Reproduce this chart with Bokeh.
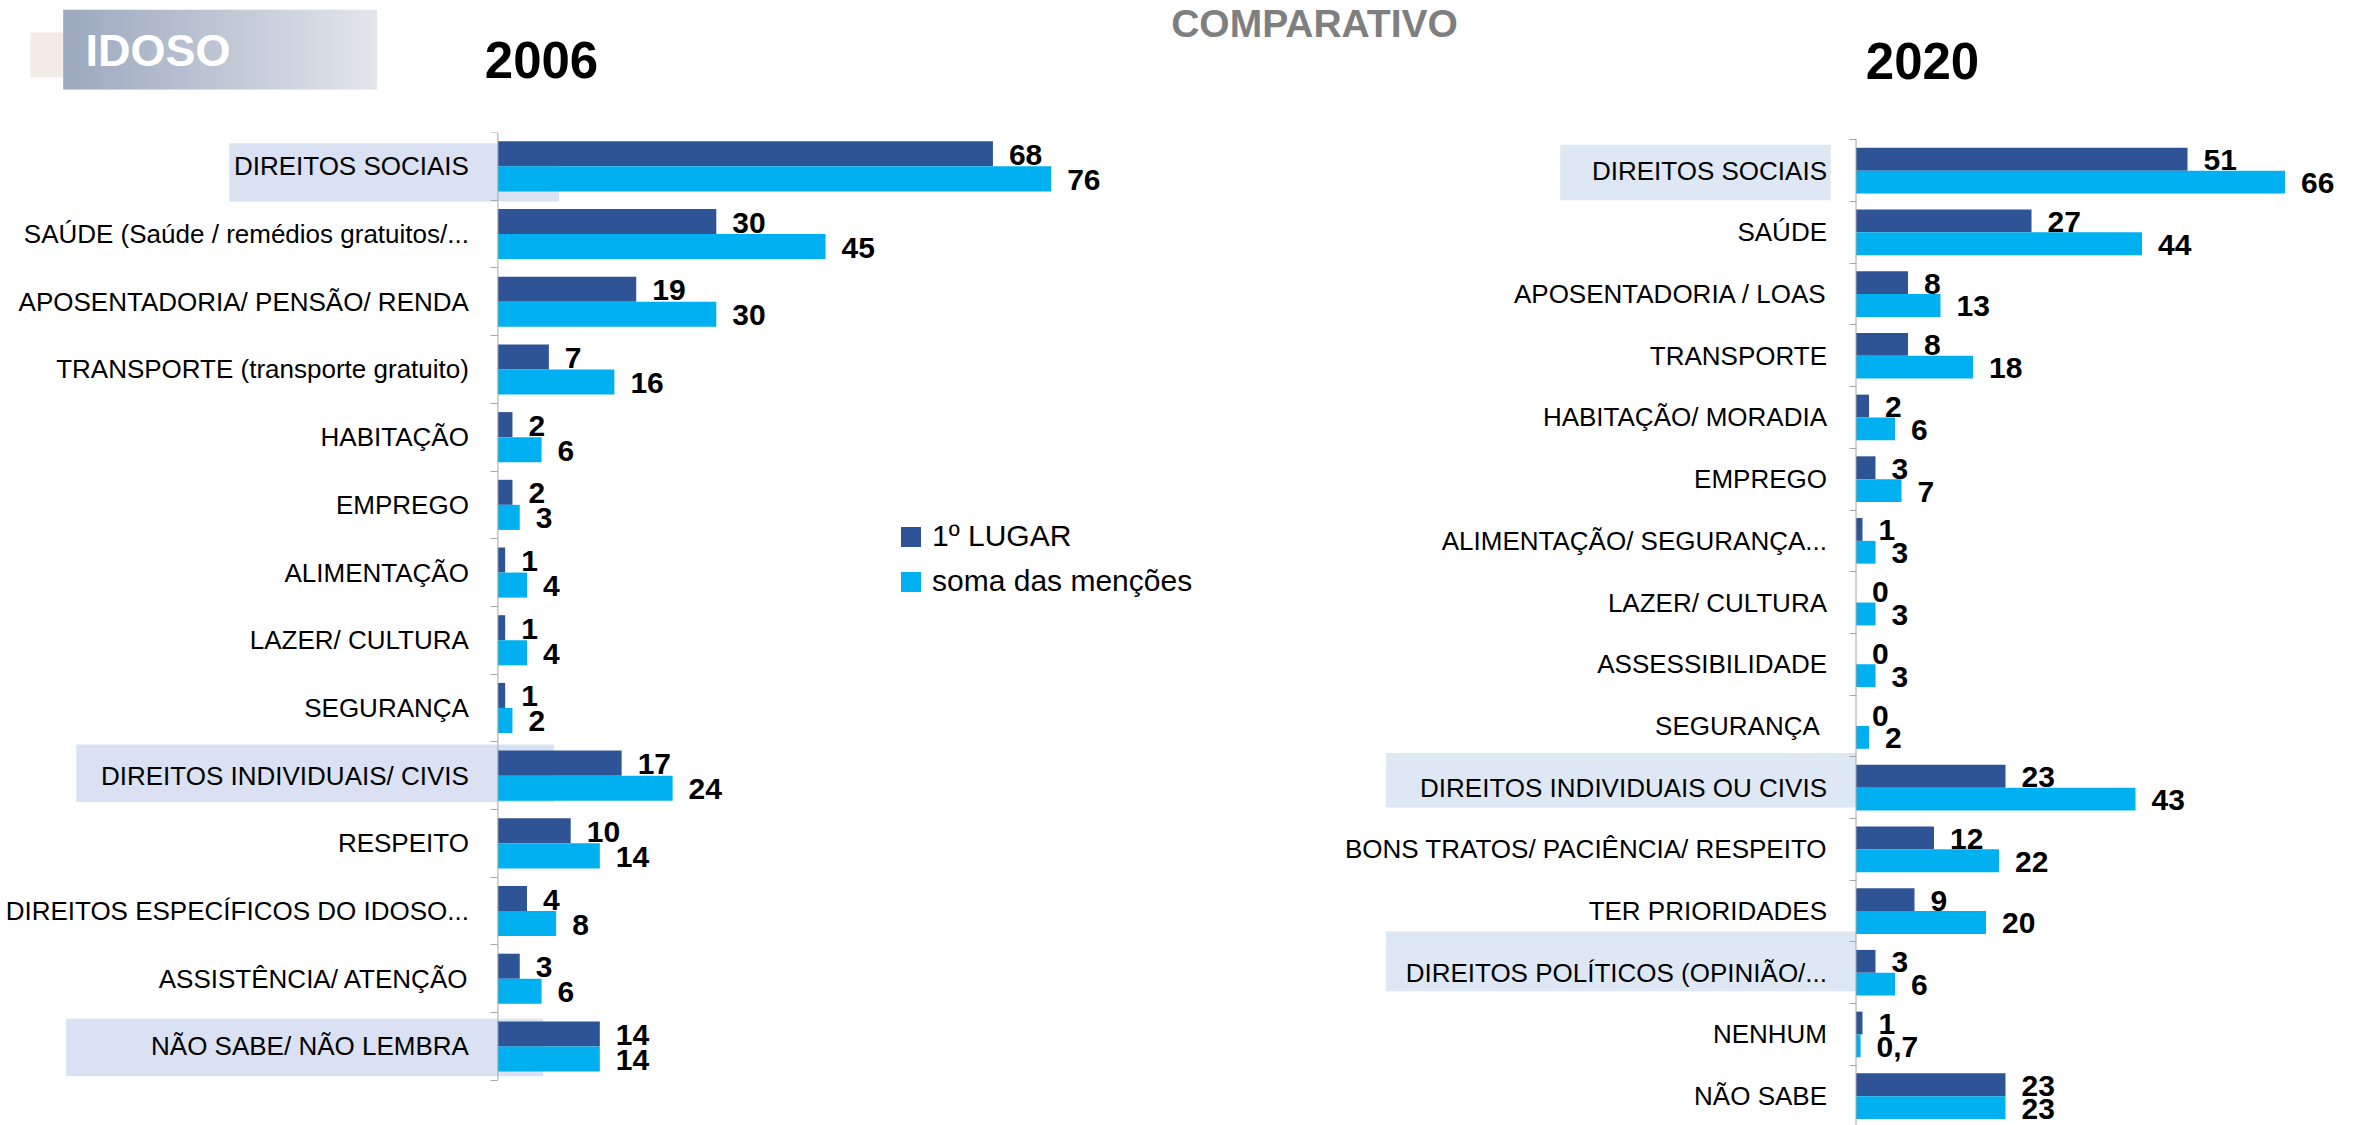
from bokeh.plotting import figure
from bokeh.models import (Range1d, FixedTicker, BoxAnnotation, Legend, LinearAxis,
                          LegendItem, ColumnDataSource)
from bokeh.layouts import column, row
from bokeh.core.properties import value
from bokeh.embed import file_html
from bokeh.resources import INLINE

# ---------------- data ----------------
group_text = "IDOSO"
title_text = "COMPARATIVO"
years = ["2006", "2020"]
series_names = ["1º LUGAR", "soma das menções"]

cats_2006 = ["DIREITOS SOCIAIS", "SAÚDE (Saúde / remédios gratuitos/...",
             "APOSENTADORIA/ PENSÃO/ RENDA", "TRANSPORTE (transporte gratuito)",
             "HABITAÇÃO", "EMPREGO", "ALIMENTAÇÃO", "LAZER/ CULTURA", "SEGURANÇA",
             "DIREITOS INDIVIDUAIS/ CIVIS", "RESPEITO",
             "DIREITOS ESPECÍFICOS DO IDOSO...", "ASSISTÊNCIA/ ATENÇÃO",
             "NÃO SABE/ NÃO LEMBRA"]
first_2006 = [68, 30, 19, 7, 2, 2, 1, 1, 1, 17, 10, 4, 3, 14]
total_2006 = [76, 45, 30, 16, 6, 3, 4, 4, 2, 24, 14, 8, 6, 14]

cats_2020 = ["DIREITOS SOCIAIS", "SAÚDE", "APOSENTADORIA / LOAS", "TRANSPORTE",
             "HABITAÇÃO/ MORADIA", "EMPREGO", "ALIMENTAÇÃO/ SEGURANÇA...",
             "LAZER/ CULTURA", "ASSESSIBILIDADE", "SEGURANÇA ",
             "DIREITOS INDIVIDUAIS OU CIVIS", "BONS TRATOS/ PACIÊNCIA/ RESPEITO",
             "TER PRIORIDADES", "DIREITOS POLÍTICOS (OPINIÃO/...", "NENHUM",
             "NÃO SABE"]
first_2020 = [51, 27, 8, 8, 2, 3, 1, 0, 0, 0, 23, 12, 9, 3, 1, 23]
total_2020 = [66, 44, 13, 18, 6, 7, 3, 3, 3, 2, 43, 22, 20, 6, 0.7, 23]

highlight_2006 = ["DIREITOS SOCIAIS", "DIREITOS INDIVIDUAIS/ CIVIS", "NÃO SABE/ NÃO LEMBRA"]
highlight_2020 = ["DIREITOS SOCIAIS", "DIREITOS INDIVIDUAIS OU CIVIS",
                  "DIREITOS POLÍTICOS (OPINIÃO/..."]

# ---------------- style / layout ----------------
DARK = "#2F5496"
LIGHT = "#00B0F0"
AXIS_GRAY = "#A6A6A6"
FONT = "Liberation Sans"

TOTAL_W = 2356
HEADER_H = 120
CHART_H = 1005
LEFT_W = 1240
RIGHT_W = TOTAL_W - LEFT_W
FRAME_TOP = 12          # frame top inside the chart canvases (aligned by the row)

# highlight boxes: (left x, right x in data units, top offset, bottom offset in rows)
HL_STYLE_2006 = [(-36.9, 8.4, -0.34, 0.52), (-57.9, 7.7, -0.46, 0.39), (-59.3, 6.2, -0.41, 0.44)]
HL_STYLE_2020 = [(-45.5, -3.9, -0.42, 0.48), (-72.3, 0.0, -0.56, 0.32), (-72.3, 0.0, -0.67, 0.30)]


def fmt(v):
    v = float(v)
    if v.is_integer():
        return str(int(v))
    return ("%g" % v).replace(".", ",")


def make_chart(cats, first, total, width, axis_x, first_row_top, px_per_unit,
               row_px, highlights, hl_style, hl_color, with_legend=False):
    n = len(cats)
    frame_h = CHART_H - FRAME_TOP
    x_start = -axis_x / px_per_unit
    x_end = (width - axis_x) / px_per_unit
    y_top = -0.5 - (first_row_top - FRAME_TOP) / row_px
    y_bottom = y_top + frame_h / row_px
    p = figure(width=width, height=CHART_H, output_backend="svg", toolbar_location=None,
               x_range=Range1d(x_start, x_end), y_range=Range1d(y_bottom, y_top),
               x_axis_location=None, y_axis_location=None,
               min_border_left=0, min_border_right=0,
               min_border_top=FRAME_TOP, min_border_bottom=0)
    p.outline_line_color = None
    p.grid.visible = False
    p.background_fill_color = "white"
    p.border_fill_color = "white"

    idx = list(range(n))
    src = ColumnDataSource(dict(
        y1=[i - 0.185 for i in idx], y2=[i + 0.185 for i in idx],
        first=first, total=total,
        l1=[fmt(v) for v in first], l2=[fmt(v) for v in total]))

    for name, (xl, xr, dt, db) in zip(highlights, hl_style):
        i = cats.index(name)
        p.add_layout(BoxAnnotation(left=xl, right=xr, top=i + dt, bottom=i + db,
                                   fill_color=hl_color, fill_alpha=1.0,
                                   line_color=None, level="underlay"))

    r1 = p.hbar(y="y1", left=0, right="first", height=0.37, source=src,
                fill_color=DARK, line_color=None)
    r2 = p.hbar(y="y2", left=0, right="total", height=0.37, source=src,
                fill_color=LIGHT, line_color=None)
    for xf, yf, lf in (("first", "y1", "l1"), ("total", "y2", "l2")):
        p.text(x=xf, y=yf, text=lf, source=src, x_offset=16, y_offset=1,
               text_font=value(FONT), text_font_style="bold",
               text_font_size="30px", text_color="black",
               text_align="left", text_baseline="middle")

    # category axis at x = 0 (line drawn only over the category rows)
    p.segment(x0=[0], y0=[-0.5], x1=[0], y1=[n - 0.5], line_color=AXIS_GRAY,
              line_width=1)
    ax = LinearAxis(fixed_location=0,
                    ticker=FixedTicker(ticks=idx,
                                       minor_ticks=[i - 0.5 for i in range(n + 1)]))
    ax.major_label_overrides = {i: c for i, c in enumerate(cats)}
    ax.major_tick_line_color = None
    ax.major_tick_out = 0
    ax.major_tick_in = 0
    ax.minor_tick_line_color = AXIS_GRAY
    ax.minor_tick_out = 7
    ax.minor_tick_in = 0
    ax.axis_line_color = None
    ax.major_label_text_font = FONT
    ax.major_label_text_font_size = "26px"
    ax.major_label_text_color = "black"
    ax.major_label_standoff = 22
    p.add_layout(ax, "left")

    if with_legend:
        legend = Legend(items=[LegendItem(label=series_names[0], renderers=[r1]),
                               LegendItem(label=series_names[1], renderers=[r2])],
                        location=(898, 527), orientation="vertical",
                        border_line_color=None, background_fill_alpha=0,
                        padding=0, margin=0, spacing=11,
                        glyph_width=25, glyph_height=25, label_height=25,
                        label_standoff=9, label_text_font=FONT,
                        label_text_font_size="30px", label_text_color="black")
        p.add_layout(legend)
    return p


# ---------------- header ----------------
h = figure(width=TOTAL_W, height=HEADER_H, output_backend="svg", toolbar_location=None,
           x_range=Range1d(0, TOTAL_W), y_range=Range1d(HEADER_H, 0),
           x_axis_location=None, y_axis_location=None, min_border=0)
h.outline_line_color = None
h.grid.visible = False

# decorative faint picture next to the group tag
h.quad(left=[30], right=[63], top=[32], bottom=[77], fill_color="#F2ECE6",
       line_color=None)
# gradient tag box
steps = 80
x0, x1 = 62.7, 376.0
c0, c1 = (155, 168, 190), (226, 229, 236)
lefts, rights, cols = [], [], []
for k in range(steps):
    t = k / (steps - 1)
    lefts.append(x0 + (x1 - x0) * k / steps)
    rights.append(x0 + (x1 - x0) * (k + 1) / steps + 0.6)
    cols.append("#%02x%02x%02x" % tuple(int(round(a + (b - a) * t)) for a, b in zip(c0, c1)))
h.quad(left=lefts, right=rights, top=[9.3] * steps, bottom=[89] * steps,
       fill_color=cols, line_color=None)

h.text(x=[85], y=[50.3], text=[group_text], text_font=value(FONT),
       text_font_style="bold", text_font_size="45px", text_color="white",
       text_align="left", text_baseline="middle")
h.text(x=[1314], y=[22.7], text=[title_text], text_font=value(FONT),
       text_font_style="bold", text_font_size="39px", text_color="#7F7F7F",
       text_align="center", text_baseline="middle")
h.text(x=[541, 1922], y=[59.2, 60], text=years, text_font=value(FONT),
       text_font_style="bold", text_font_size="51px", text_color="black",
       text_align="center", text_baseline="middle")

# ---------------- charts ----------------
left = make_chart(cats_2006, first_2006, total_2006, LEFT_W,
                  axis_x=497.4, first_row_top=132 - HEADER_H,
                  px_per_unit=7.28, row_px=67.7,
                  highlights=highlight_2006, hl_style=HL_STYLE_2006,
                  hl_color="#D9E1F2", with_legend=True)
right = make_chart(cats_2020, first_2020, total_2020, RIGHT_W,
                   axis_x=1855.5 - LEFT_W, first_row_top=139.3 - HEADER_H,
                   px_per_unit=6.5, row_px=61.7,
                   highlights=highlight_2020, hl_style=HL_STYLE_2020,
                   hl_color="#DDE8F4")

layout = column(h, row(left, right, spacing=0), spacing=0)
open("out.html", "w").write(file_html(layout, INLINE))
